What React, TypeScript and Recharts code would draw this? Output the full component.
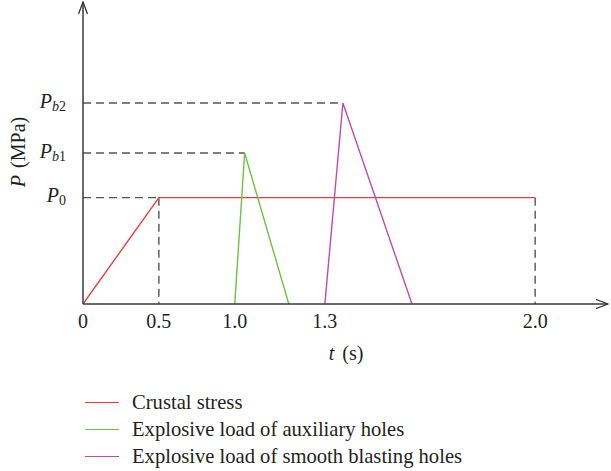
import { LineChart, Line, XAxis, YAxis, ReferenceLine, Label } from 'recharts';

// load levels (schematic units)
const P0 = 1;
const Pb1 = 1.42;
const Pb2 = 1.89;

// time axis is broken after 1.0 s (twice as wide)
const warp = (t: number) => (t <= 1 ? t : 1 + (t - 1) * 1.98);

const crustalTime = [0, 0.5, 2.0];
const crustalLoad = [0, P0, P0];
const auxTime = [1.0, 1.033, 1.18];
const auxLoad = [0, Pb1, 0];
const smoothTime = [1.3, 1.36, 1.59];
const smoothLoad = [0, Pb2, 0];

const xTicks = [0, 0.5, 1.0, 1.3, 2.0];
const xTickLabels = ['0', '0.5', '1.0', '1.3', '2.0'];
const yTicks = [P0, Pb1, Pb2];
const yTickSubs = ['0', 'b1', 'b2'];

const seriesNames = [
  'Crustal stress',
  'Explosive load of auxiliary holes',
  'Explosive load of smooth blasting holes',
];
const seriesColors = ['#ee3b3b', '#6cc23f', '#c04bb0'];

const toRows = (ts: number[], ps: number[]) => ts.map((t, i) => ({ t, p: ps[i] }));
const crustal = toRows(crustalTime, crustalLoad);
const auxiliary = toRows(auxTime, auxLoad);
const smooth = toRows(smoothTime, smoothLoad);

const FONT = '"Liberation Serif", "DejaVu Serif", serif';
const TXT = '#231f20';
const DASH = '#555555';

const XTick = (props: any) => {
  const { x, y, index } = props;
  return (
    <text x={x} y={y + 24} textAnchor="middle" fontFamily={FONT} fontSize={20} fill={TXT}>
      {xTickLabels[index]}
    </text>
  );
};

const YTick = (props: any) => {
  const { x, y, index } = props;
  const sub = yTickSubs[index];
  return (
    <text x={x - 17} y={y + 4.5} textAnchor="end" fontFamily={FONT} fontSize={20} fill={TXT}>
      <tspan fontStyle="italic">P</tspan>
      <tspan fontSize={14} dy={3} fontStyle={sub === '0' ? 'normal' : 'italic'}>
        {sub.charAt(0)}
      </tspan>
      {sub.length > 1 && <tspan fontSize={14}>{sub.slice(1)}</tspan>}
    </text>
  );
};

const dashed = (x1: number, y1: number, x2: number, y2: number, key: string) => (
  <ReferenceLine
    key={key}
    segment={[
      { x: warp(x1), y: y1 },
      { x: warp(x2), y: y2 },
    ]}
    stroke={DASH}
    strokeWidth={1.4}
    strokeDasharray="8 5"
    ifOverflow="visible"
  />
);

export default function App() {
  return (
    <div style={{ position: 'absolute', left: 0, top: 0, width: 611, height: 471, background: '#fff' }}>
      <LineChart width={611} height={471} margin={{ top: 2, right: 3, bottom: 0, left: 0 }}>
        <defs>
          <marker
            id="arrow"
            viewBox="0 0 14 10"
            refX="13"
            refY="5"
            markerWidth="14"
            markerHeight="10"
            markerUnits="userSpaceOnUse"
            orient="auto-start-reverse"
          >
            <path d="M1,0.5 L13,5 L1,9.5" fill="none" stroke="#333" strokeWidth={1.3} />
          </marker>
        </defs>
        <XAxis
          type="number"
          dataKey={(d: any) => warp(d.t)}
          domain={[0, 3.46]}
          allowDataOverflow
          ticks={xTicks.map(warp)}
          interval={0}
          tick={<XTick />}
          tickLine={false}
          tickSize={0}
          tickMargin={0}
          height={167}
          axisLine={{ stroke: '#3a3a3a', strokeWidth: 1.5, markerEnd: 'url(#arrow)' }}
        >
          <Label
            content={() => (
              <text x={346} y={360} textAnchor="middle" fontFamily={FONT} fontSize={20} fill={TXT}>
                <tspan fontStyle="italic">t</tspan>
                <tspan dx={3}> (s)</tspan>
              </text>
            )}
          />
        </XAxis>
        <YAxis
          type="number"
          dataKey="p"
          domain={[0, 2.84]}
          allowDataOverflow
          ticks={yTicks}
          interval={0}
          tick={<YTick />}
          tickLine={false}
          tickSize={0}
          tickMargin={0}
          width={83}
          axisLine={{ stroke: '#3a3a3a', strokeWidth: 1.5, markerStart: 'url(#arrow)' }}
        >
          <Label
            content={() => (
              <text
                x={18}
                y={152}
                transform="rotate(-90 18 152)"
                textAnchor="middle"
                dominantBaseline="central"
                fontFamily={FONT}
                fontSize={20}
                fill={TXT}
              >
                <tspan fontStyle="italic">P</tspan>
                <tspan dx={2}> (MPa)</tspan>
              </text>
            )}
          />
        </YAxis>

        {dashed(0, P0, 0.5, P0, 'h0')}
        {dashed(0, Pb1, auxTime[1], Pb1, 'h1')}
        {dashed(0, Pb2, smoothTime[1], Pb2, 'h2')}
        {dashed(0.5, P0, 0.5, 0, 'v0')}
        {dashed(2.0, P0, 2.0, 0, 'v1')}

        <Line data={crustal} dataKey="p" type="linear" stroke={seriesColors[0]} strokeWidth={1.4} dot={false} isAnimationActive={false} />
        <Line data={auxiliary} dataKey="p" type="linear" stroke={seriesColors[1]} strokeWidth={1.4} dot={false} isAnimationActive={false} />
        <Line data={smooth} dataKey="p" type="linear" stroke={seriesColors[2]} strokeWidth={1.4} dot={false} isAnimationActive={false} />
      </LineChart>

      <div style={{ position: 'absolute', left: 85, top: 389, fontFamily: FONT, fontSize: 20.6, color: TXT }}>
        {seriesNames.map((name, i) => (
          <div key={name} style={{ display: 'flex', alignItems: 'center', height: 27, lineHeight: '27px' }}>
            <span style={{ display: 'inline-block', width: 34, height: 0, borderTop: `1.3px solid ${seriesColors[i]}`, marginRight: 13 }} />
            <span>{name}</span>
          </div>
        ))}
      </div>
    </div>
  );
}
